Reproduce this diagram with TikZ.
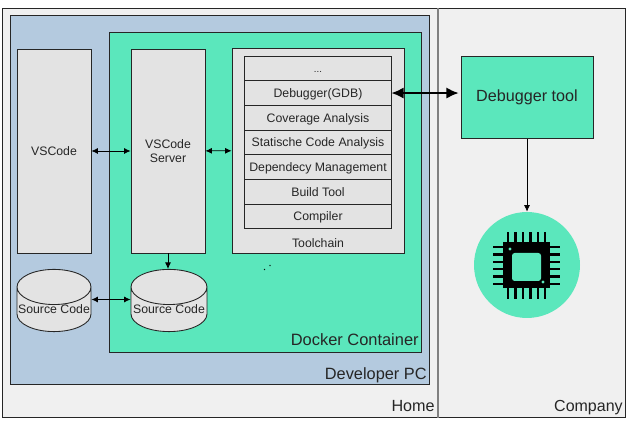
\documentclass[tikz,border=0pt]{standalone}
\usepackage{fontspec}
\setmainfont{Liberation Sans}
\usepackage{xcolor}
\usetikzlibrary{arrows.meta,positioning,calc,shapes.geometric}
\definecolor{areagrey}{HTML}{F0F0F0}
\definecolor{pcblue}{HTML}{B4CADF}
\definecolor{mintfill}{HTML}{5BE7BC}
\definecolor{boxgrey}{HTML}{E3E3E3}
\tikzset{
  area/.style={draw=black!85, line width=0.5pt, anchor=north west, inner sep=0pt},
  toolbox/.style={draw=black!85, fill=boxgrey, line width=0.5pt, align=center, inner sep=0pt, font=\fontsize{7}{8.4}\selectfont, text=black!85},
  rowbox/.style={toolbox, outer sep=0pt, minimum width=2.93cm, minimum height=0.494cm, text height=5.7pt, text depth=0.6pt, anchor=north},
  store/.style={cylinder, shape border rotate=90, aspect=1, draw=black!85, fill=boxgrey, line width=0.5pt, inner sep=0pt, font=\fontsize{7}{8.4}\selectfont, text=black!85, minimum height=1.16cm},
  lbl/.style={text=black!85, inner sep=0pt},
  arrow/.style={{Latex[length=1.3mm,width=1.2mm]}-{Latex[length=1.3mm,width=1.2mm]}, line width=0.45pt},
  onearrow/.style={-{Latex[length=1.3mm,width=1.2mm]}, line width=0.45pt},
  thickarrow/.style={{Latex[length=2.5mm,width=2.3mm]}-{Latex[length=2.5mm,width=2.3mm]}, line width=1.4pt}
}
\begin{document}
\begin{tikzpicture}[x=0.02cm,y=-0.02cm]
\useasboundingbox (0,0) rectangle (631,431);
% areas
\node[area, fill=areagrey, minimum width=8.7cm, minimum height=8.18cm] (home) at (2,8) {};
\node[area, fill=areagrey, minimum width=3.76cm, minimum height=8.18cm] (company) at (437,8) {};
\draw[black!50, line width=0.8pt] (home.north east) -- (home.south east);
\node[area, fill=pcblue, minimum width=8.38cm, minimum height=7.38cm] (pc) at (10,15) {};
\node[area, fill=mintfill, minimum width=6.24cm, minimum height=6.4cm] (docker) at (109,32) {};
\node[lbl, anchor=base east, font=\fontsize{9.2}{11}\selectfont] at (435,411.5) {Home};
\node[lbl, anchor=base east, font=\fontsize{9.1}{11}\selectfont] at (623,411.5) {Company};
\node[lbl, anchor=base east, font=\fontsize{9.3}{11}\selectfont] at (427,379) {Developer PC};
\node[lbl, anchor=base east, font=\fontsize{9.35}{11}\selectfont] at (419,346) {Docker Container};
% container boxes
\node[toolbox, minimum width=1.48cm, minimum height=4.08cm] (vscode) at (54,151) {VSCode};
\node[toolbox, minimum width=1.48cm, minimum height=4.08cm] (server) at (168,151) {VSCode\\Server};
\node[toolbox, minimum width=3.44cm, minimum height=4.1cm] (toolchain) at (318,150.5) {};
\node[lbl, font=\fontsize{7}{8.4}\selectfont] at (318,243.5) {Toolchain};
% tool rows
\node[rowbox, font=\fontsize{5.5}{7}\selectfont] (dots) at (318,56) {...};
\node[rowbox, below=0pt of dots] (gdb) {Debugger(GDB)};
\node[rowbox, below=0pt of gdb] (coverage) {Coverage Analysis};
\node[rowbox, below=0pt of coverage] (static) {Statische Code Analysis};
\node[rowbox, below=0pt of static] (dependency) {Dependecy Management};
\node[rowbox, below=0pt of dependency] (build) {Build Tool};
\node[rowbox, below=0pt of build] (compiler) {Compiler};
\node[font=\fontsize{6.5}{7}\selectfont, rotate=42, inner sep=0pt] (speck) at (267.5,268) {. .};
% source code
\node[store, minimum width=1.48cm] (localsrc) at (54,309.5) {\makebox[20pt]{Source Code}};
\node[store, minimum width=1.52cm] (docksrc) at (169,309.5) {\makebox[20pt]{Source Code}};
% company side
\node[draw=black!85, fill=mintfill, line width=0.5pt, minimum width=2.64cm, minimum height=1.64cm, inner sep=0pt, font=\fontsize{9.2}{11}\selectfont, text=black!85] (debugger) at (527,97.5) {Debugger tool};
\node[circle, fill=mintfill, minimum size=2.12cm, inner sep=0pt] (chip) at (527,265) {};
\foreach \px in {508,515.5,523,530.5,538,545}{
  \fill[black] (\px-1.4,232) rectangle (\px+1.4,299);
}
\foreach \py in {247,254.5,262,269,276.5,284}{
  \fill[black] (493,\py-1.4) rectangle (560,\py+1.4);
}
\fill[black] (503,242) rectangle (550,288);
\fill[mintfill, rounded corners=1.5pt] (512,253) rectangle (541,281);
\fill[mintfill] (510,249) circle (1.6);
\fill[mintfill] (543,282) circle (1.6);
% connectors
\draw[arrow] (vscode) -- (server);
\draw[arrow] (server) -- (toolchain);
\draw[onearrow] (server) -- (server |- docksrc.north);
\draw[arrow] ($(localsrc.east)+(0,-10)$) -- ($(docksrc.west)+(0,-10)$);
\draw[thickarrow, shorten >=1pt] (gdb.east) -- (debugger.west |- gdb);
\draw[onearrow] (debugger) -- (chip);
\end{tikzpicture}
\end{document}
